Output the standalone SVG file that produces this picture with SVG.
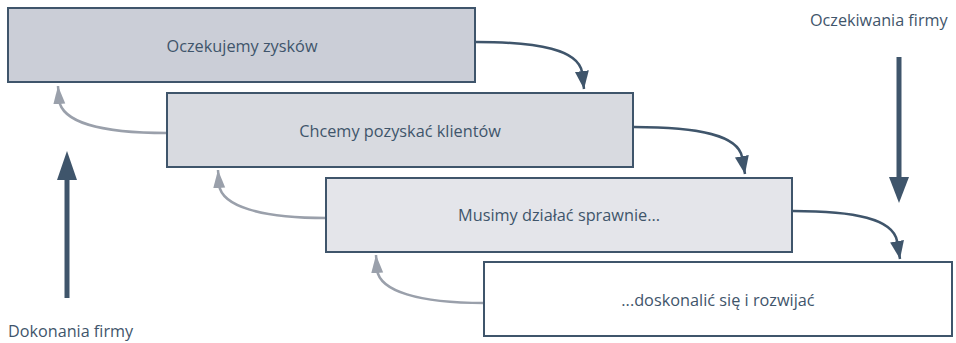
<svg xmlns="http://www.w3.org/2000/svg" width="956" height="343" viewBox="0 0 956 343">
<defs>
<style>
.box{stroke:#3f556b;stroke-width:2}
.t{font-family:"Open Sans","Noto Sans",sans-serif;font-size:16.3px;fill:#3f556b;text-anchor:middle}
.l{font-family:"Open Sans","Noto Sans",sans-serif;font-size:16.2px;fill:#3f556b}
.fwd{fill:none;stroke:#3f556b;stroke-width:2.5}
.back{fill:none;stroke:#9aa0ab;stroke-width:2.5}
</style>
<marker id="hd" markerUnits="userSpaceOnUse" markerWidth="20" markerHeight="16" viewBox="0 0 20 16" refX="18" refY="8" orient="auto">
<path d="M0,1 L18,8 L0,15 Z" fill="#3f556b"/>
</marker>
<marker id="hg" markerUnits="userSpaceOnUse" markerWidth="20" markerHeight="16" viewBox="0 0 20 16" refX="18" refY="8" orient="auto">
<path d="M0,2 L18,8 L0,14 Z" fill="#9aa0ab"/>
</marker>
</defs>
<g id="connectors">
<path class="back" d="M167,133 C100,133 62,122 59,100 L58,86" marker-end="url(#hg)"/>
<path class="back" d="M326,218 C260,218 222,206 219,185 L218,170" marker-end="url(#hg)"/>
<path class="back" d="M484,303 C418,303 380,291 377,270 L376,255" marker-end="url(#hg)"/>
<path class="fwd" d="M476,42 C540,42 578,50 582,72 L584,89" marker-end="url(#hd)"/>
<path class="fwd" d="M634,127 C698,127 738,135 742,157 L745,174" marker-end="url(#hd)"/>
<path class="fwd" d="M793,211 C855,211 893,219 897,241 L900,259" marker-end="url(#hd)"/>
<line x1="67" y1="298" x2="67" y2="176" stroke="#3f556b" stroke-width="5"/>
<path d="M57,180 L67,151 L77,180 Z" fill="#3f556b"/>
<line x1="899" y1="57" x2="899" y2="180" stroke="#3f556b" stroke-width="5"/>
<path d="M889,177 L899,203 L909,177 Z" fill="#3f556b"/>
</g>
<g id="n1"><rect class="box" x="8" y="8" width="467" height="74" fill="#cbced7"/><text class="t" x="242" y="52">Oczekujemy zysków</text></g>
<g id="n2"><rect class="box" x="167" y="93" width="466" height="74" fill="#d8dae0"/><text class="t" x="400" y="137">Chcemy pozyskać klientów</text></g>
<g id="n3"><rect class="box" x="326" y="178" width="466" height="74" fill="#e4e5ea"/><text class="t" x="559" y="221">Musimy działać sprawnie...</text></g>
<g id="n4"><rect class="box" x="484" y="262" width="468" height="74" fill="#ffffff"/><text class="t" x="718" y="306">...doskonalić się i rozwijać</text></g>
<g id="labels">
<text class="l" x="8" y="337">Dokonania firmy</text>
<text class="l" x="810" y="26">Oczekiwania firmy</text>
</g>
</svg>
